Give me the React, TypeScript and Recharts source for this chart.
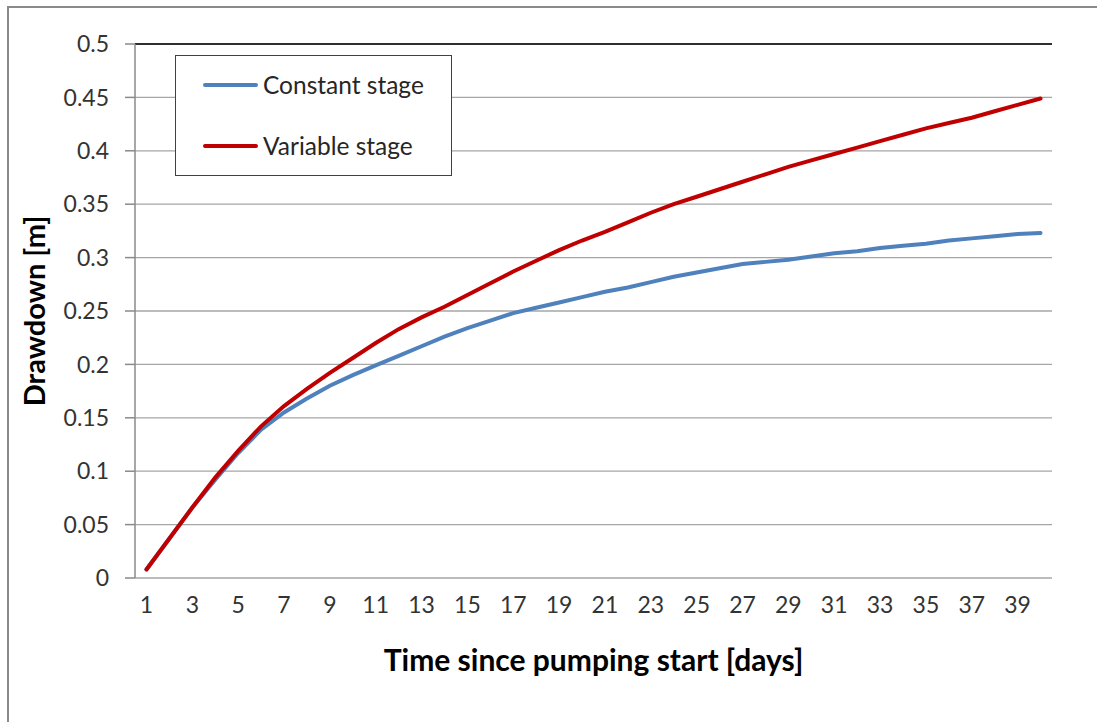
import { LineChart, Line, XAxis, YAxis, CartesianGrid, Legend, ReferenceLine } from "recharts";

const DAYS = [1, 2, 3, 4, 5, 6, 7, 8, 9, 10, 11, 12, 13, 14, 15, 16, 17, 18, 19, 20,
  21, 22, 23, 24, 25, 26, 27, 28, 29, 30, 31, 32, 33, 34, 35, 36, 37, 38, 39, 40];

const CONSTANT_STAGE = [0.008, 0.037, 0.066, 0.092, 0.117, 0.139, 0.155, 0.168, 0.18, 0.19,
  0.199, 0.208, 0.217, 0.226, 0.234, 0.241, 0.248, 0.253, 0.258, 0.263,
  0.268, 0.272, 0.277, 0.282, 0.286, 0.29, 0.294, 0.296, 0.298, 0.301,
  0.304, 0.306, 0.309, 0.311, 0.313, 0.316, 0.318, 0.32, 0.322, 0.323];

const VARIABLE_STAGE = [0.008, 0.037, 0.066, 0.094, 0.119, 0.142, 0.161, 0.177, 0.192, 0.206,
  0.22, 0.233, 0.244, 0.254, 0.265, 0.276, 0.287, 0.297, 0.307, 0.316,
  0.324, 0.333, 0.342, 0.35, 0.357, 0.364, 0.371, 0.378, 0.385, 0.391,
  0.397, 0.403, 0.409, 0.415, 0.421, 0.426, 0.431, 0.437, 0.443, 0.449];

const Y_TICKS = [0, 0.05, 0.1, 0.15, 0.2, 0.25, 0.3, 0.35, 0.4, 0.45, 0.5];
const X_LABEL_TICKS = [1, 3, 5, 7, 9, 11, 13, 15, 17, 19, 21, 23, 25, 27, 29, 31, 33, 35, 37, 39];

const data = DAYS.map((d, i) => ({
  day: d,
  constant: CONSTANT_STAGE[i],
  variable: VARIABLE_STAGE[i],
}));

// tick marks sit between categories, like Excel's "between tick marks"
const BOUNDARY_TICKS = [...DAYS.map((d) => d - 0.5), DAYS[DAYS.length - 1] + 0.5];
const X_DOMAIN = [BOUNDARY_TICKS[0], BOUNDARY_TICKS[BOUNDARY_TICKS.length - 1]];

const FONT = "Lato, 'Open Sans', sans-serif";
const BLUE = "#4F81BD";
const RED = "#C00000";

function renderLegend() {
  const items = [
    { label: "Constant stage", color: BLUE },
    { label: "Variable stage", color: RED },
  ];
  return (
    <div style={{ width: 277, height: 121, border: "1.5px solid #404040", background: "#fff", boxSizing: "border-box", fontFamily: FONT }}>
      {items.map((it, i) => (
        <div key={it.label} style={{ position: "absolute", left: 28, top: 15 + i * 61, display: "flex", alignItems: "center" }}>
          <div style={{ width: 55, height: 4, borderRadius: 2, background: it.color }} />
          <span style={{ marginLeft: 5, fontSize: 24.5, color: "#262626" }}>{it.label}</span>
        </div>
      ))}
    </div>
  );
}

export default function App() {
  return (
    <div style={{ position: "fixed", left: 0, top: 0, width: 1097, height: 722, overflow: "hidden", background: "#fff" }}>
      <div style={{ position: "absolute", left: 7, top: 6, width: 1200, height: 900, borderLeft: "2px solid #8a8a8a", borderTop: "2px solid #8a8a8a" }} />
      <div style={{ position: "absolute", left: 0, top: 0 }}>
        <LineChart width={1097} height={722} data={data} margin={{ top: 44, right: 45, left: 0, bottom: 44 }}>
          <CartesianGrid vertical={false} stroke="#a6a6a6" strokeWidth={1.3} />
          <XAxis xAxisId={0} dataKey="day" type="number" domain={X_DOMAIN} ticks={BOUNDARY_TICKS} interval={0}
            tick={false} tickSize={10} height={0} allowDataOverflow
            axisLine={{ stroke: "#8a8a8a", strokeWidth: 1.5 }} tickLine={{ stroke: "#8a8a8a", strokeWidth: 1.5 }} />
          <XAxis xAxisId="labels" dataKey="day" type="number" domain={X_DOMAIN} ticks={X_LABEL_TICKS} interval={0}
            height={100} tickSize={0} tickMargin={19} axisLine={false} tickLine={false} allowDataOverflow
            tick={{ fill: "#333", fontSize: 23, fontFamily: FONT }}
            label={{ value: "Time since pumping start [days]", position: "insideBottom", offset: 7,
              style: { fill: "#000", fontSize: 30, fontWeight: 700, fontFamily: FONT } }} />
          <YAxis yAxisId={0} domain={[0, 0.5]} ticks={Y_TICKS} interval={0} width={135} tickSize={10} tickMargin={16}
            tickFormatter={(v: number) => String(+v.toFixed(2))}
            tick={{ fill: "#333", fontSize: 23, fontFamily: FONT }}
            axisLine={{ stroke: "#8a8a8a", strokeWidth: 1.5 }} tickLine={{ stroke: "#8a8a8a", strokeWidth: 1.5 }}
            label={{ value: "Drawdown [m]", angle: -90, position: "insideLeft", offset: 35,
              style: { textAnchor: "middle", fill: "#000", fontSize: 29, fontWeight: 700, fontFamily: FONT } }} />
          <YAxis yAxisId="right" orientation="right" domain={[0, 0.5]} width={0} tick={false} tickLine={false}
            axisLine={{ stroke: "#000", strokeWidth: 1.5 }} />
          <ReferenceLine yAxisId={0} y={0.5} stroke="#000" strokeWidth={1.5} />
          <Legend layout="vertical" align="center" verticalAlign="middle" content={renderLegend}
            wrapperStyle={{ top: 55, left: 175, width: 277, height: 121 }} />
          <Line xAxisId={0} yAxisId="right" type="linear" dataKey="constant" name="Constant stage" stroke={BLUE}
            strokeWidth={4} dot={false} isAnimationActive={false} strokeLinecap="round" />
          <Line xAxisId="labels" yAxisId={0} type="linear" dataKey="variable" name="Variable stage" stroke={RED}
            strokeWidth={4} dot={false} isAnimationActive={false} strokeLinecap="round" />
        </LineChart>
      </div>
    </div>
  );
}
